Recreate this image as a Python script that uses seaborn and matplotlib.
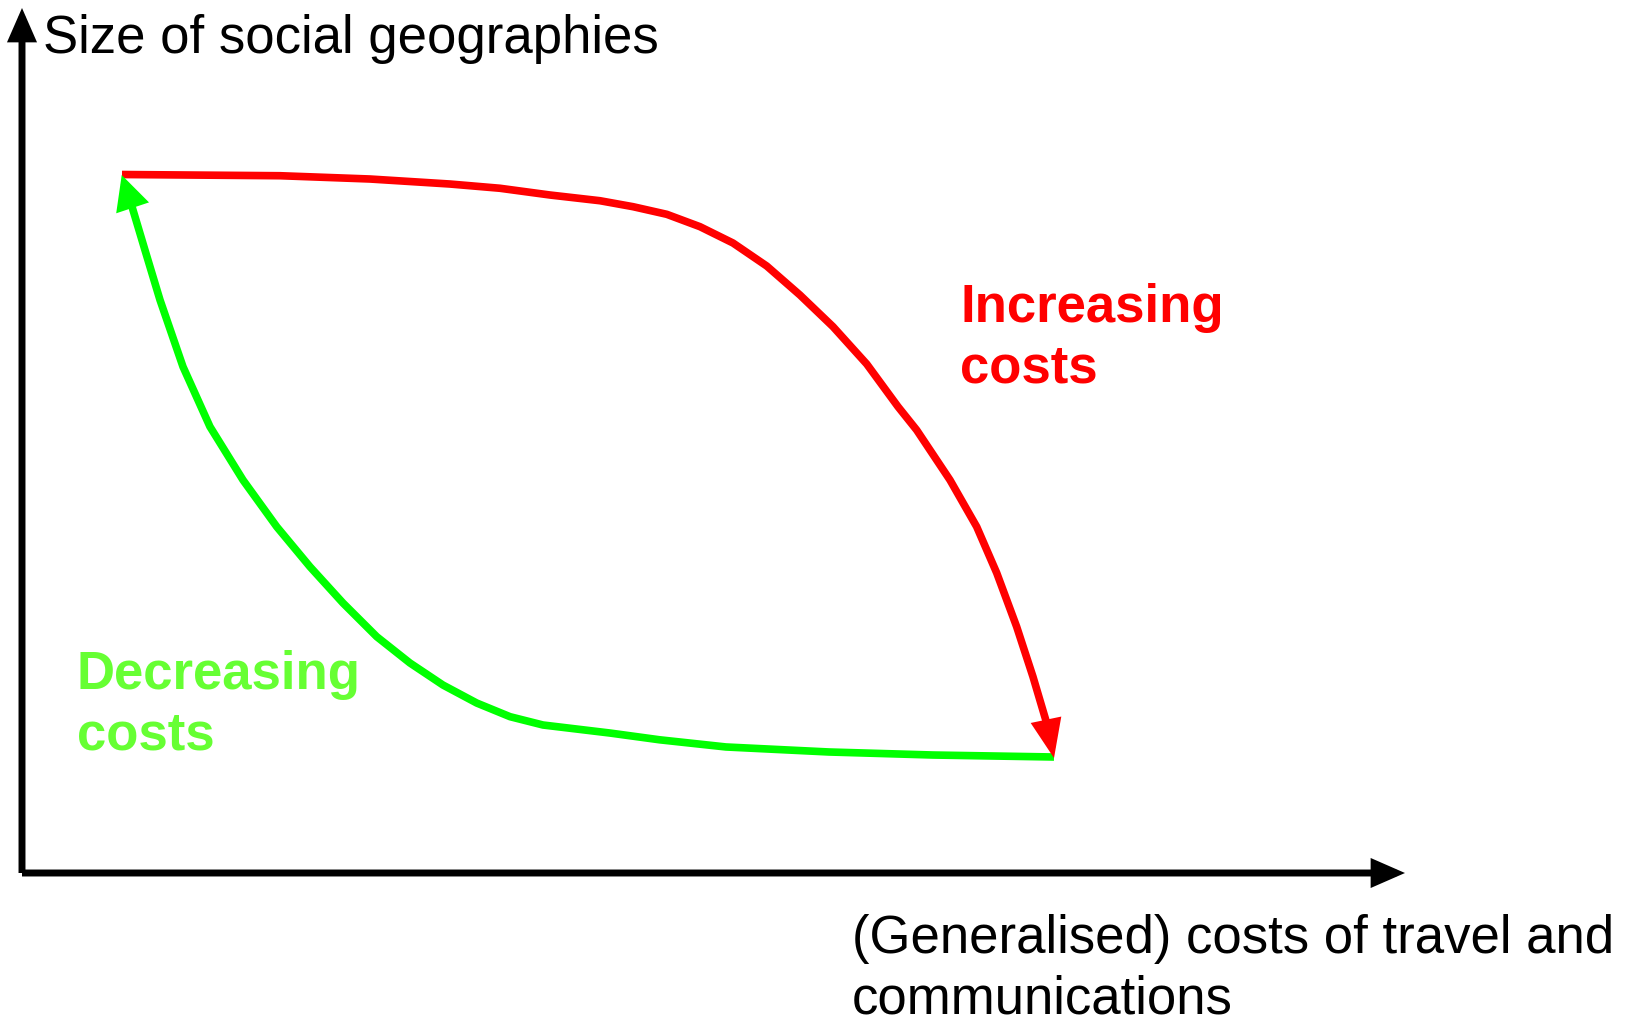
import matplotlib
matplotlib.use("Agg")
import matplotlib.pyplot as plt
import pandas as pd
import seaborn as sns

# curve points, in axis units (0-100 on both axes)
increasing_x = [7.23, 18.66, 25.16, 30.95, 34.56, 38.18, 41.79, 44.18, 46.62,
                49.02, 51.41, 53.85, 56.25, 58.64, 61.08, 63.34, 64.69, 67.10,
                69.03, 70.48, 71.92, 73.10, 74.09, 74.62]
increasing_y = [80.75, 80.61, 80.23, 79.65, 79.16, 78.38, 77.72, 77.03, 76.15,
                74.72, 72.83, 70.17, 66.82, 63.16, 58.84, 53.91, 51.21, 45.43,
                40.03, 34.68, 28.47, 22.69, 17.34, 13.29]
decreasing_x = [74.62, 65.87, 58.35, 50.90, 46.10, 42.52, 37.67, 35.29, 32.88,
                30.44, 28.05, 25.65, 23.21, 20.82, 18.42, 15.98, 13.59, 11.64,
                9.98, 8.89, 7.81, 7.21]
decreasing_y = [13.41, 13.64, 13.99, 14.57, 15.40, 16.18, 17.11, 18.07, 19.65,
                21.73, 24.28, 27.32, 31.21, 35.41, 40.03, 45.43, 51.60, 58.53,
                66.24, 72.02, 77.80, 80.69]

y_title = "Size of social geographies"
x_title = "(Generalised) costs of travel and\ncommunications"
red_label = "Increasing\ncosts"
green_label = "Decreasing\ncosts"

RED = "#ff0000"
GREEN = "#00ff00"
GREEN_TEXT = "#66ff33"
W, H = 1626, 1021

sns.set_theme(style="white")
plt.rcParams["font.family"] = ["Liberation Sans", "DejaVu Sans"]

fig = plt.figure(figsize=(W / 100, H / 100), dpi=100)
ax = fig.add_axes([22 / W, (H - 873) / H, (1405 - 22) / W, (873 - 8) / H])
ax.set_axis_off()


def px(x, y):
    return x / W, 1 - y / H


# axes drawn as arrows
axis_arrow = dict(arrowstyle="-|>,head_length=1.6,head_width=0.7", lw=5,
                  color="black", mutation_scale=10, shrinkA=0, shrinkB=0,
                  joinstyle="miter", capstyle="butt")
ax.annotate("", xy=(1, 0), xytext=(0, 0), xycoords="axes fraction",
            arrowprops=axis_arrow, annotation_clip=False)
ax.annotate("", xy=(0, 1), xytext=(0, 0), xycoords="axes fraction",
            arrowprops=axis_arrow, annotation_clip=False)


def curve(xs, ys, color, head):
    df = pd.DataFrame({"x": xs[:-1], "y": ys[:-1]})
    sns.lineplot(data=df, x="x", y="y", sort=False, estimator=None, ax=ax,
                 color=color, lw=5.5, solid_capstyle="butt",
                 solid_joinstyle="round")
    ax.annotate("", xy=(xs[-1], ys[-1]), xytext=(xs[-2], ys[-2]),
                arrowprops=dict(arrowstyle="-|>," + head, lw=5.5, color=color,
                                mutation_scale=10, shrinkA=0, shrinkB=0,
                                joinstyle="miter", capstyle="butt"))


curve(increasing_x, increasing_y, RED, "head_length=1.8,head_width=0.72")
curve(decreasing_x, decreasing_y, GREEN, "head_length=1.6,head_width=0.8")
ax.set_xlim(0, 100)
ax.set_ylim(0, 100)

fs = 38
fig.text(*px(43, 53), y_title, fontsize=fs, color="black",
         va="baseline", ha="left")
fig.text(*px(852, 1013), x_title, fontsize=fs, color="black",
         va="baseline", ha="left", linespacing=1.25)
fig.text(*px(960, 382), red_label, fontsize=fs, fontweight="bold",
         color=RED, va="baseline", ha="left", linespacing=1.25)
fig.text(*px(77, 749), green_label, fontsize=fs, fontweight="bold",
         color=GREEN_TEXT, va="baseline", ha="left", linespacing=1.25)

fig.savefig("out.png", dpi=100, facecolor="white")
